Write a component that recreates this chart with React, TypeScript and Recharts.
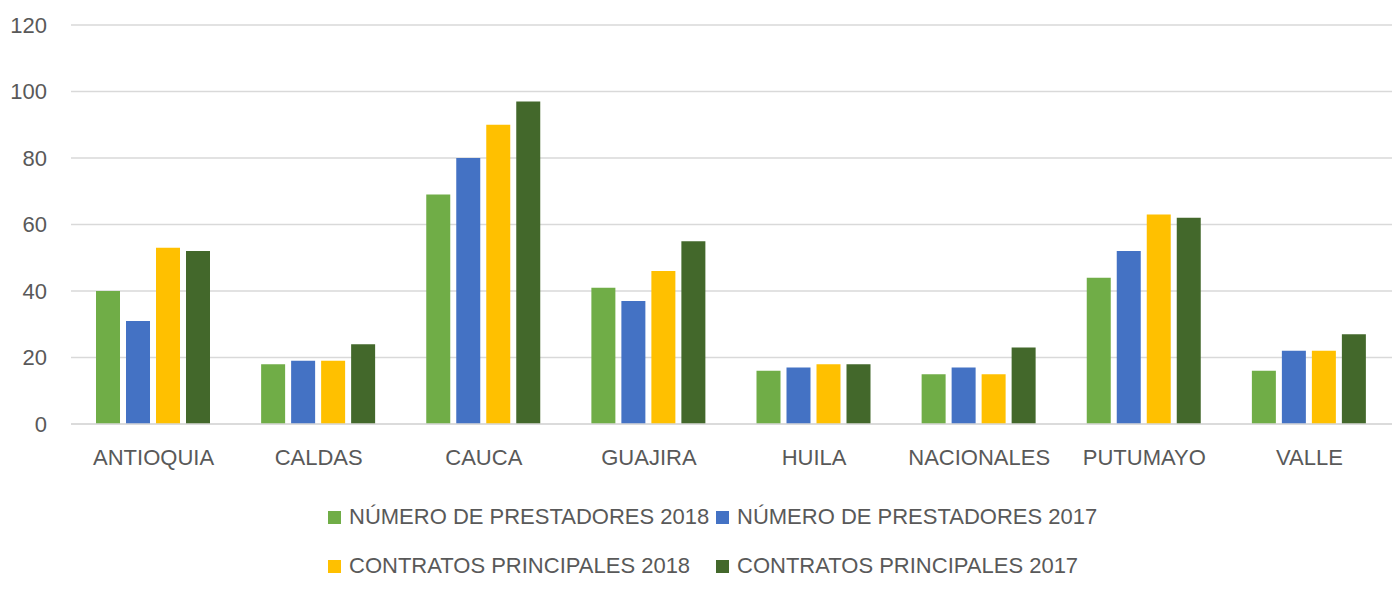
import { BarChart, Bar, XAxis, YAxis, CartesianGrid } from "recharts";

const categories = [
  "ANTIOQUIA",
  "CALDAS",
  "CAUCA",
  "GUAJIRA",
  "HUILA",
  "NACIONALES",
  "PUTUMAYO",
  "VALLE",
];

const prestadores2018 = [40, 18, 69, 41, 16, 15, 44, 16];
const prestadores2017 = [31, 19, 80, 37, 17, 17, 52, 22];
const contratos2018 = [53, 19, 90, 46, 18, 15, 63, 22];
const contratos2017 = [52, 24, 97, 55, 18, 23, 62, 27];

const yTicks = [0, 20, 40, 60, 80, 100, 120];

const SERIES = [
  { key: "p2018", name: "NÚMERO DE PRESTADORES 2018", color: "#70AD47", values: prestadores2018 },
  { key: "p2017", name: "NÚMERO DE PRESTADORES 2017", color: "#4472C4", values: prestadores2017 },
  { key: "c2018", name: "CONTRATOS PRINCIPALES 2018", color: "#FFC000", values: contratos2018 },
  { key: "c2017", name: "CONTRATOS PRINCIPALES 2017", color: "#43682B", values: contratos2017 },
];

const FONT = '"Liberation Sans", Arial, sans-serif';
const TEXT_COLOR = "#595959";

export default function App() {
  const data = categories.map((cat, i) => {
    const row: Record<string, string | number> = { name: cat };
    for (const s of SERIES) row[s.key] = s.values[i];
    return row;
  });

  return (
    <div
      style={{
        position: "absolute",
        left: 0,
        top: 0,
        width: 1397,
        height: 596,
        background: "#fff",
        fontFamily: FONT,
      }}
    >
      <BarChart
        width={1397}
        height={596}
        data={data}
        margin={{ top: 25, right: 5, left: 0, bottom: 112 }}
        barCategoryGap={25}
        barGap={6}
      >
        <CartesianGrid stroke="#D9D9D9" strokeWidth={1.5} vertical={false} />
        <XAxis
          dataKey="name"
          height={60}
          tickLine={false}
          axisLine={{ stroke: "#D9D9D9", strokeWidth: 1.5 }}
          tick={{ fontSize: 22, fill: TEXT_COLOR, fontFamily: FONT }}
          tickMargin={19}
          interval={0}
        />
        <YAxis
          width={71}
          domain={[0, 120]}
          ticks={yTicks}
          tickLine={false}
          axisLine={false}
          tick={{ fontSize: 22, fill: TEXT_COLOR, fontFamily: FONT }}
          tickMargin={18}
        />
        {SERIES.map((s) => (
          <Bar
            key={s.key}
            dataKey={s.key}
            name={s.name}
            fill={s.color}
            isAnimationActive={false}
          />
        ))}
      </BarChart>

      {/* legend: two rows of two, like the Excel original */}
      <div
        style={{
          position: "absolute",
          left: 328,
          top: 504,
          display: "grid",
          gridTemplateColumns: "388px auto",
          rowGap: 23,
          fontSize: 22,
          color: TEXT_COLOR,
          lineHeight: "26px",
        }}
      >
        {SERIES.map((s) => (
          <div key={s.key} style={{ display: "flex", alignItems: "center", whiteSpace: "nowrap" }}>
            <span
              style={{
                display: "inline-block",
                width: 13,
                height: 13,
                background: s.color,
                marginRight: 8,
              }}
            />
            {s.name}
          </div>
        ))}
      </div>
    </div>
  );
}
